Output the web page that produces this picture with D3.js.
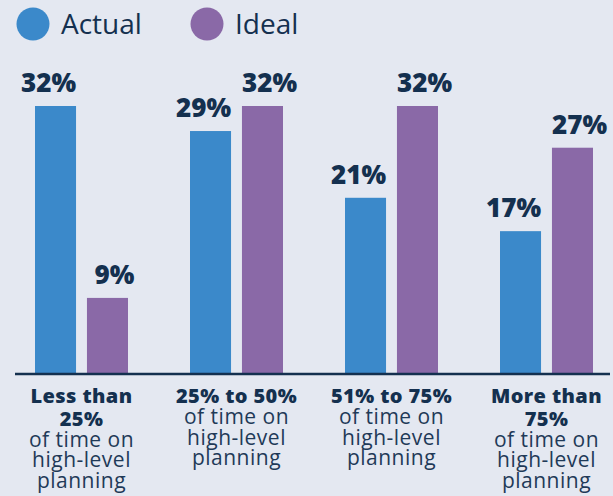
<!DOCTYPE html>
<html>
<head>
<meta charset="utf-8">
<script src="https://cdn.jsdelivr.net/npm/d3@7"></script>
<style>
  html, body { margin: 0; padding: 0; background: #e4e8f1; }
  svg { display: block; font-family: "Open Sans", sans-serif; }
</style>
</head>
<body>
<div id="chart"></div>
<script>
// data
var categories = ["Less than 25%", "25% to 50%", "51% to 75%", "More than 75%"];
var boldLines = [["Less than", "25%"], ["25% to 50%"], ["51% to 75%"], ["More than", "75%"]];
var subLines = ["of time on", "high-level", "planning"];
var series = ["Actual", "Ideal"];
var actual = [32, 29, 21, 17];
var ideal = [9, 32, 32, 27];
var colors = ["#3b89ca", "#8a69a7"];

var width = 613, height = 496;
var ink = "#14304f";

var svg = d3.select("#chart").append("svg")
    .attr("width", width)
    .attr("height", height);

svg.append("rect").attr("width", width).attr("height", height).attr("fill", "#e4e8f1");

var x0 = d3.scaleBand().domain(categories).range([35, 593]).paddingInner(0.4).paddingOuter(0);
var x1 = d3.scaleBand().domain(series).range([0, x0.bandwidth()]).paddingInner(0.21).paddingOuter(0);
var y = d3.scaleLinear().domain([0, d3.max(actual.concat(ideal))]).range([373, 106]);

var rows = categories.map(function(c, i) {
    return {cat: c, i: i, vals: [{s: "Actual", v: actual[i]}, {s: "Ideal", v: ideal[i]}]};
});

var groups = svg.selectAll("g.grp").data(rows).enter().append("g")
    .attr("class", "grp")
    .attr("transform", function(d) { return "translate(" + x0(d.cat) + ",0)"; });

groups.selectAll("rect").data(function(d) { return d.vals; }).enter().append("rect")
    .attr("x", function(d) { return x1(d.s); })
    .attr("y", function(d) { return y(d.v); })
    .attr("width", x1.bandwidth())
    .attr("height", function(d) { return y(0) - y(d.v); })
    .attr("fill", function(d, j) { return colors[j]; });

// value labels (nudged outward like the original)
groups.selectAll("text.val").data(function(d) { return d.vals; }).enter().append("text")
    .attr("class", "val")
    .attr("x", function(d) { return x1(d.s) + x1.bandwidth() / 2 + (d.s == "Actual" ? -7 : 7); })
    .attr("y", function(d) { return y(d.v) - 14; })
    .attr("text-anchor", "middle")
    .attr("fill", ink)
    .style("font-size", "26px")
    .style("font-weight", 800)
    .text(function(d) { return d.v + "%"; });

// baseline
svg.append("line")
    .attr("x1", 15).attr("x2", 610)
    .attr("y1", y(0) + 1).attr("y2", y(0) + 1)
    .attr("stroke", ink).attr("stroke-width", 2.5);

// category labels
groups.each(function(d) {
    var g = d3.select(this);
    var cx = x0.bandwidth() / 2;
    var t = g.append("text").attr("text-anchor", "middle").attr("fill", ink);
    var yy = 403;
    boldLines[d.i].forEach(function(l, k) {
        if (k > 0) yy += 22.5;
        t.append("tspan")
            .attr("x", cx).attr("y", yy)
            .style("font-size", "20px")
            .style("font-weight", 800)
            .style("letter-spacing", "0.4px")
            .text(l);
    });
    subLines.forEach(function(l, k) {
        yy += (k == 0 ? 21 : 20.5);
        t.append("tspan")
            .attr("x", cx).attr("y", yy)
            .style("font-size", "21px")
            .style("font-weight", 400)
            .style("letter-spacing", "0.5px")
            .attr("fill", "#1f3a58")
            .text(l);
    });
});

// legend
var legX = [33, 207];
var leg = svg.selectAll("g.leg").data(series).enter().append("g")
    .attr("class", "leg")
    .attr("transform", function(d, i) { return "translate(" + legX[i] + ",24)"; });
leg.append("circle").attr("r", 16.5).attr("fill", function(d, i) { return colors[i]; });
leg.append("text")
    .attr("x", 28).attr("y", 10)
    .attr("fill", ink)
    .style("font-size", "28px")
    .style("font-weight", 400)
    .text(function(d) { return d; });
</script>
</body>
</html>
